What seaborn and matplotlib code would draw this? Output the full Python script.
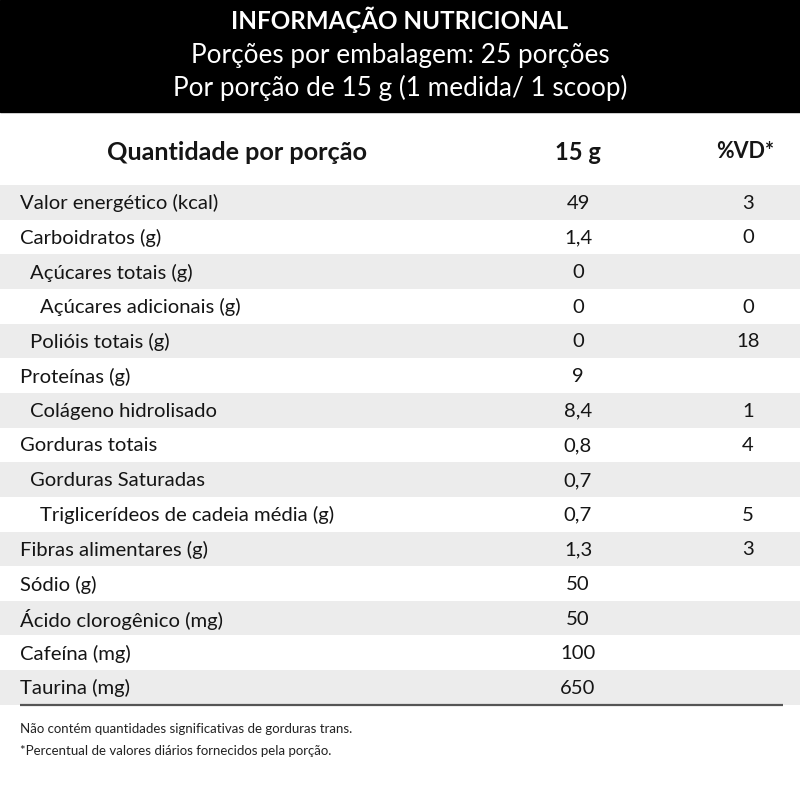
import matplotlib
matplotlib.use("Agg")
import matplotlib.pyplot as plt
from matplotlib import font_manager
import seaborn as sns

# ---------------- data ----------------
title = "INFORMAÇÃO NUTRICIONAL"
subtitle1 = "Porções por embalagem: 25 porções"
subtitle2 = "Por porção de 15 g (1 medida/ 1 scoop)"
header_labels = ["Quantidade por porção", "15 g", "%VD*"]
nutrients = ["Valor energético (kcal)", "Carboidratos (g)", "Açúcares totais (g)",
             "Açúcares adicionais (g)", "Polióis totais (g)", "Proteínas (g)",
             "Colágeno hidrolisado", "Gorduras totais", "Gorduras Saturadas",
             "Triglicerídeos de cadeia média (g)", "Fibras alimentares (g)",
             "Sódio (g)", "Ácido clorogênico (mg)", "Cafeína (mg)", "Taurina (mg)"]
indent_level = [0, 0, 1, 2, 1, 0, 1, 0, 1, 2, 0, 0, 0, 0, 0]
per_portion = ["49", "1,4", "0", "0", "0", "9", "8,4", "0,8", "0,7", "0,7",
               "1,3", "50", "50", "100", "650"]
daily_value = ["3", "0", "", "0", "18", "", "1", "4", "", "5", "3", "", "", "", ""]
footnotes = ["Não contém quantidades significativas de gorduras trans.",
             "*Percentual de valores diários fornecidos pela porção."]

# ---------------- style ----------------
sns.set_theme(style="white")
avail = {f.name for f in font_manager.fontManager.ttflist}
def pick(*names):
    for n in names:
        if n in avail:
            return n
    return "DejaVu Sans"
narrow = pick("Liberation Sans Narrow", "Lato", "Open Sans")
humanist = pick("Lato", "Open Sans", "Noto Sans")
plt.rcParams["font.family"] = [humanist, "DejaVu Sans"]

fig = plt.figure(figsize=(8, 8), dpi=100)
ax = fig.add_axes([0, 0, 1, 1])
ax.set_xlim(0, 800)
ax.set_ylim(800, 0)
ax.axis("off")

# header band
ax.axhspan(0, 112, color="black", zorder=0)
ax.text(400, 20, title, color="white", fontsize=17.4, fontweight="bold",
        ha="center", va="center", family=humanist)
ax.text(400, 55, subtitle1, color="white", fontsize=18.8, ha="center", va="center", family=humanist)
ax.text(400, 88, subtitle2, color="white", fontsize=18.8, ha="center", va="center", family=humanist)

# column headers
txt = "#151515"
ax.text(107, 152, header_labels[0], fontsize=18.2, fontweight="bold", ha="left", va="center", color=txt)
ax.text(578, 152, header_labels[1], fontsize=17, fontweight="bold", ha="center", va="center", color=txt)
ax.text(745, 152, header_labels[2], fontsize=15.5, fontweight="bold", ha="center", va="center", color=txt)

# rows
y0, h = 185, 34.65
fs = 14.6
for i, (name, lvl, v, dv) in enumerate(zip(nutrients, indent_level, per_portion, daily_value)):
    top = y0 + i * h
    if i % 2 == 0:
        ax.axhspan(top, top + h, color="#ececec", zorder=0, lw=0)
    yc = top + h / 2 + 1
    ax.text(20 + 10 * lvl, yc, name, fontsize=fs, ha="left", va="center", color=txt, family=narrow)
    ax.text(578, yc, v, fontsize=fs, ha="center", va="center", color=txt, family=narrow)
    if dv:
        ax.text(748, yc, dv, fontsize=fs, ha="center", va="center", color=txt, family=narrow)

bottom = y0 + len(nutrients) * h
ax.plot([20, 783], [bottom, bottom], color="#555555", lw=1.6, solid_capstyle="butt")

for k, note in enumerate(footnotes):
    ax.text(20, bottom + 24 + k * 22, note, fontsize=9.5, ha="left", va="center",
            color="#222222", family=narrow)

fig.savefig("out.png", dpi=100, facecolor="white")
